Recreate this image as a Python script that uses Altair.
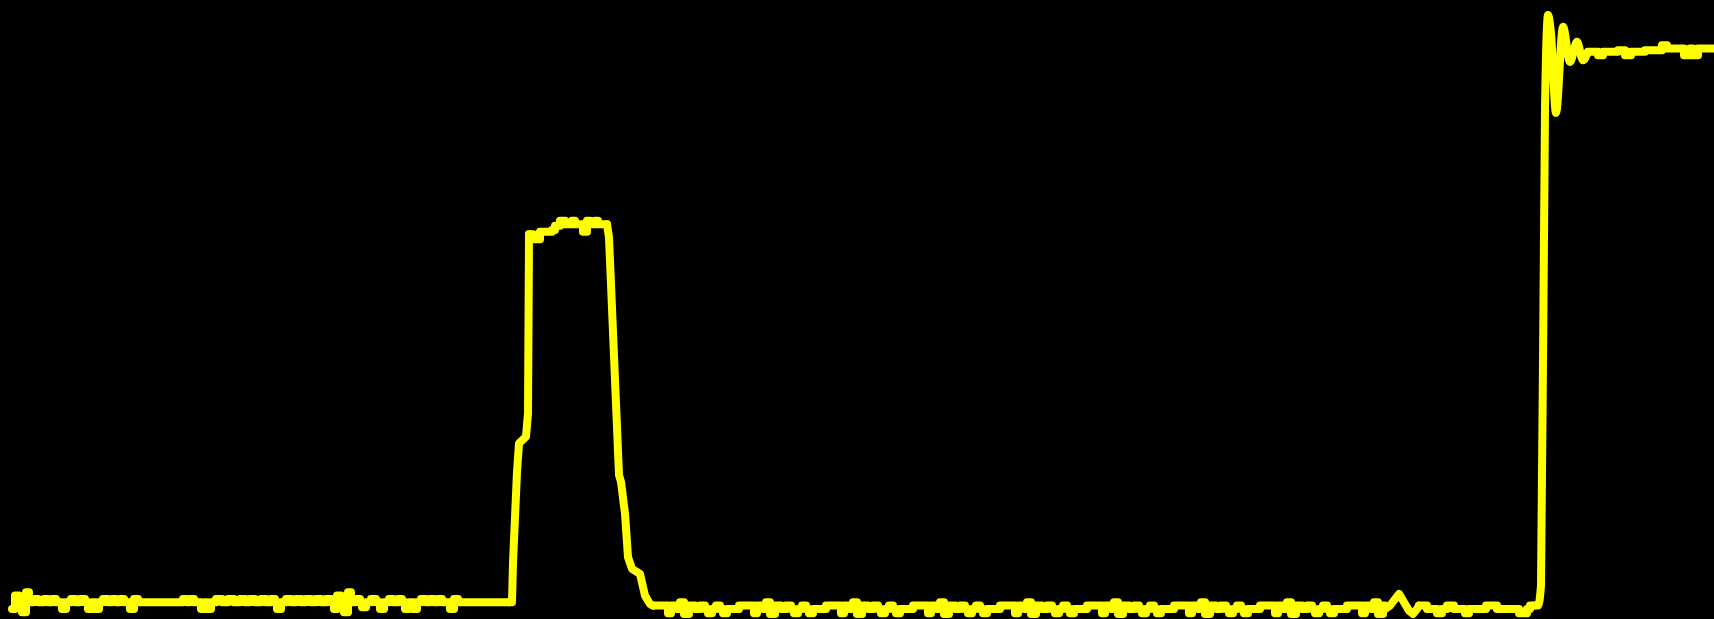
import altair as alt
import pandas as pd

# Oscilloscope-style capture: time in samples, signal in volts.

# Quiet baseline before the first pulse (held values, step-wise)
base_a_t = [12, 15, 19, 22, 26, 29, 33, 38, 44, 48, 52, 56, 62, 66, 71, 75, 80, 85,
            88, 92, 95, 99, 103, 108, 112, 116, 120, 124, 130, 134, 138, 183, 187, 190,
            194, 201, 205, 207, 211, 216, 222, 228, 234, 240, 245, 250, 255, 261, 266,
            271, 275, 277, 281, 286, 291, 296, 301, 306, 311, 316, 321, 326, 331, 334,
            337, 341, 344, 348, 351, 355, 360, 362, 366, 371, 376, 380, 384, 389, 393,
            398, 402, 405, 409, 413, 417, 421, 426, 430, 434, 438, 442, 450, 454, 458, 509]
base_a_v = [-0.04, 0.04, 0.0, -0.06, 0.06, 0.0, 0.02, 0.0, 0.02, 0.0, 0.02, 0.0, -0.04, 0.0,
            0.02, 0.0, 0.02, 0.0, -0.04, 0.0, -0.04, 0.0, 0.02, 0.0, 0.02, 0.0, 0.02, 0.0,
            -0.04, 0.02, 0.0, 0.02, 0.0, 0.02, 0.0, -0.04, 0.0, -0.04, 0.0, 0.02, 0.0, 0.02,
            0.0, 0.02, 0.0, 0.02, 0.0, 0.02, 0.0, 0.02, 0.0, -0.04, 0.0, 0.02, 0.0, 0.02,
            0.0, 0.02, 0.0, 0.02, 0.0, 0.02, 0.0, -0.04, 0.04, 0.0, -0.06, 0.06, 0.0, 0.02,
            0.0, -0.03, 0.0, 0.02, 0.0, -0.04, 0.0, 0.02, 0.0, 0.02, 0.0, -0.04, 0.0, -0.04,
            0.0, 0.02, 0.0, 0.02, 0.0, 0.02, 0.0, -0.04, 0.02, 0.0, 0.0]

# First pulse: leading edge, flat top, trailing edge
rise_t = [509, 512, 513, 517, 519, 526, 528, 529]
rise_v = [0.0, 0.0, 0.235, 0.78, 0.95, 0.99, 1.13, 2.20]
top_t = [529, 533, 540, 552, 555, 560, 565, 572, 575, 583, 587, 590, 595, 598, 607]
top_v = [2.20, 2.17, 2.215, 2.225, 2.25, 2.28, 2.26, 2.28, 2.26, 2.215, 2.28, 2.26, 2.28,
         2.26, 2.26]
fall_t = [607, 609, 611, 619, 621, 625, 628, 632, 640, 645, 650, 653]
fall_v = [2.26, 2.18, 1.90, 0.76, 0.72, 0.53, 0.27, 0.20, 0.17, 0.04, -0.01, -0.02]

# Middle baseline: recurring ripple shape (offset within one cycle, level)
ripple_dt = [0, 15, 18, 24, 27, 31, 36, 42, 47, 52, 55, 59, 63, 67, 70, 74]
ripple_v = [-0.02, -0.065, -0.02, -0.04, 0.0, -0.07, -0.02, -0.04, -0.02, -0.04, -0.065,
            -0.04, -0.02, -0.04, -0.065, -0.04]
ripple_starts = [653, 739, 826, 913, 1000, 1087, 1174, 1260, 1347]
ripple_end = 1385

# Small glitch before the second edge
glitch_t = [1385, 1390, 1399, 1404, 1409, 1413, 1417, 1419]
glitch_v = [-0.04, -0.02, 0.05, 0.0, -0.05, -0.07, -0.04, -0.02]
base_b_t = [1419, 1427, 1437, 1442, 1447, 1454, 1465, 1469, 1486, 1497, 1519, 1527, 1530, 1534]
base_b_v = [-0.02, -0.04, -0.065, -0.04, -0.02, -0.04, -0.065, -0.04, -0.02, -0.04, -0.065,
            -0.04, -0.02, -0.02]

# Second edge with ringing, then the settled high level
edge_t = [1534, 1538, 1541, 1545, 1548, 1551, 1556, 1563, 1570, 1577, 1583, 1588]
edge_v = [-0.02, -0.02, 0.1, 2.95, 3.51, 3.40, 2.925, 3.44, 3.23, 3.35, 3.24, 3.29]
high_t = [1588, 1598, 1603, 1618, 1625, 1631, 1645, 1662, 1667, 1684, 1690, 1693, 1698, 1714]
high_v = [3.29, 3.27, 3.29, 3.30, 3.27, 3.29, 3.30, 3.33, 3.31, 3.27, 3.31, 3.27, 3.31, 3.31]

held_rows = []
for t, v in zip(base_a_t, base_a_v):
    held_rows.append({"t": t, "v": v, "seg": "a"})
for t, v in zip(top_t, top_v):
    held_rows.append({"t": t, "v": v, "seg": "top"})
for t0 in ripple_starts:
    for dt, v in zip(ripple_dt, ripple_v):
        if t0 + dt < ripple_end:
            held_rows.append({"t": t0 + dt, "v": v, "seg": "mid"})
held_rows.append({"t": ripple_end, "v": -0.04, "seg": "mid"})
for t, v in zip(base_b_t, base_b_v):
    held_rows.append({"t": t, "v": v, "seg": "b"})
for t, v in zip(high_t, high_v):
    held_rows.append({"t": t, "v": v, "seg": "high"})

ramp_rows = []
for name, ts, vs in [("rise", rise_t, rise_v), ("fall", fall_t, fall_v),
                     ("glitch", glitch_t, glitch_v)]:
    for t, v in zip(ts, vs):
        ramp_rows.append({"t": t, "v": v, "seg": name})
ring = pd.DataFrame({"t": edge_t, "v": edge_v})

held = pd.DataFrame(held_rows)
ramps = pd.DataFrame(ramp_rows)

x = alt.X("t:Q", scale=alt.Scale(domain=[0, 1714], nice=False, zero=False), axis=None)
y = alt.Y("v:Q", scale=alt.Scale(domain=[-0.1, 3.6], nice=False, zero=False), axis=None)

trace_style = dict(color="#FFFF00", strokeWidth=8, strokeCap="round", strokeJoin="round")

held_layer = alt.Chart(held).mark_line(interpolate="step-after", **trace_style).encode(
    x=x, y=y, detail="seg:N", order="t:Q"
)
ramp_layer = alt.Chart(ramps).mark_line(**trace_style).encode(
    x=x, y=y, detail="seg:N", order="t:Q"
)
ring_layer = alt.Chart(ring).mark_line(interpolate="monotone", **trace_style).encode(
    x=x, y=y, order="t:Q"
)

chart = (
    alt.layer(held_layer, ramp_layer, ring_layer)
    .properties(width=1714, height=619, autosize=alt.AutoSizeParams(type="none"),
                padding=0, background="#000000")
    .configure_view(stroke=None, fill="#000000")
)

chart.save("out.html", embed_options={"renderer": "svg", "actions": False})
